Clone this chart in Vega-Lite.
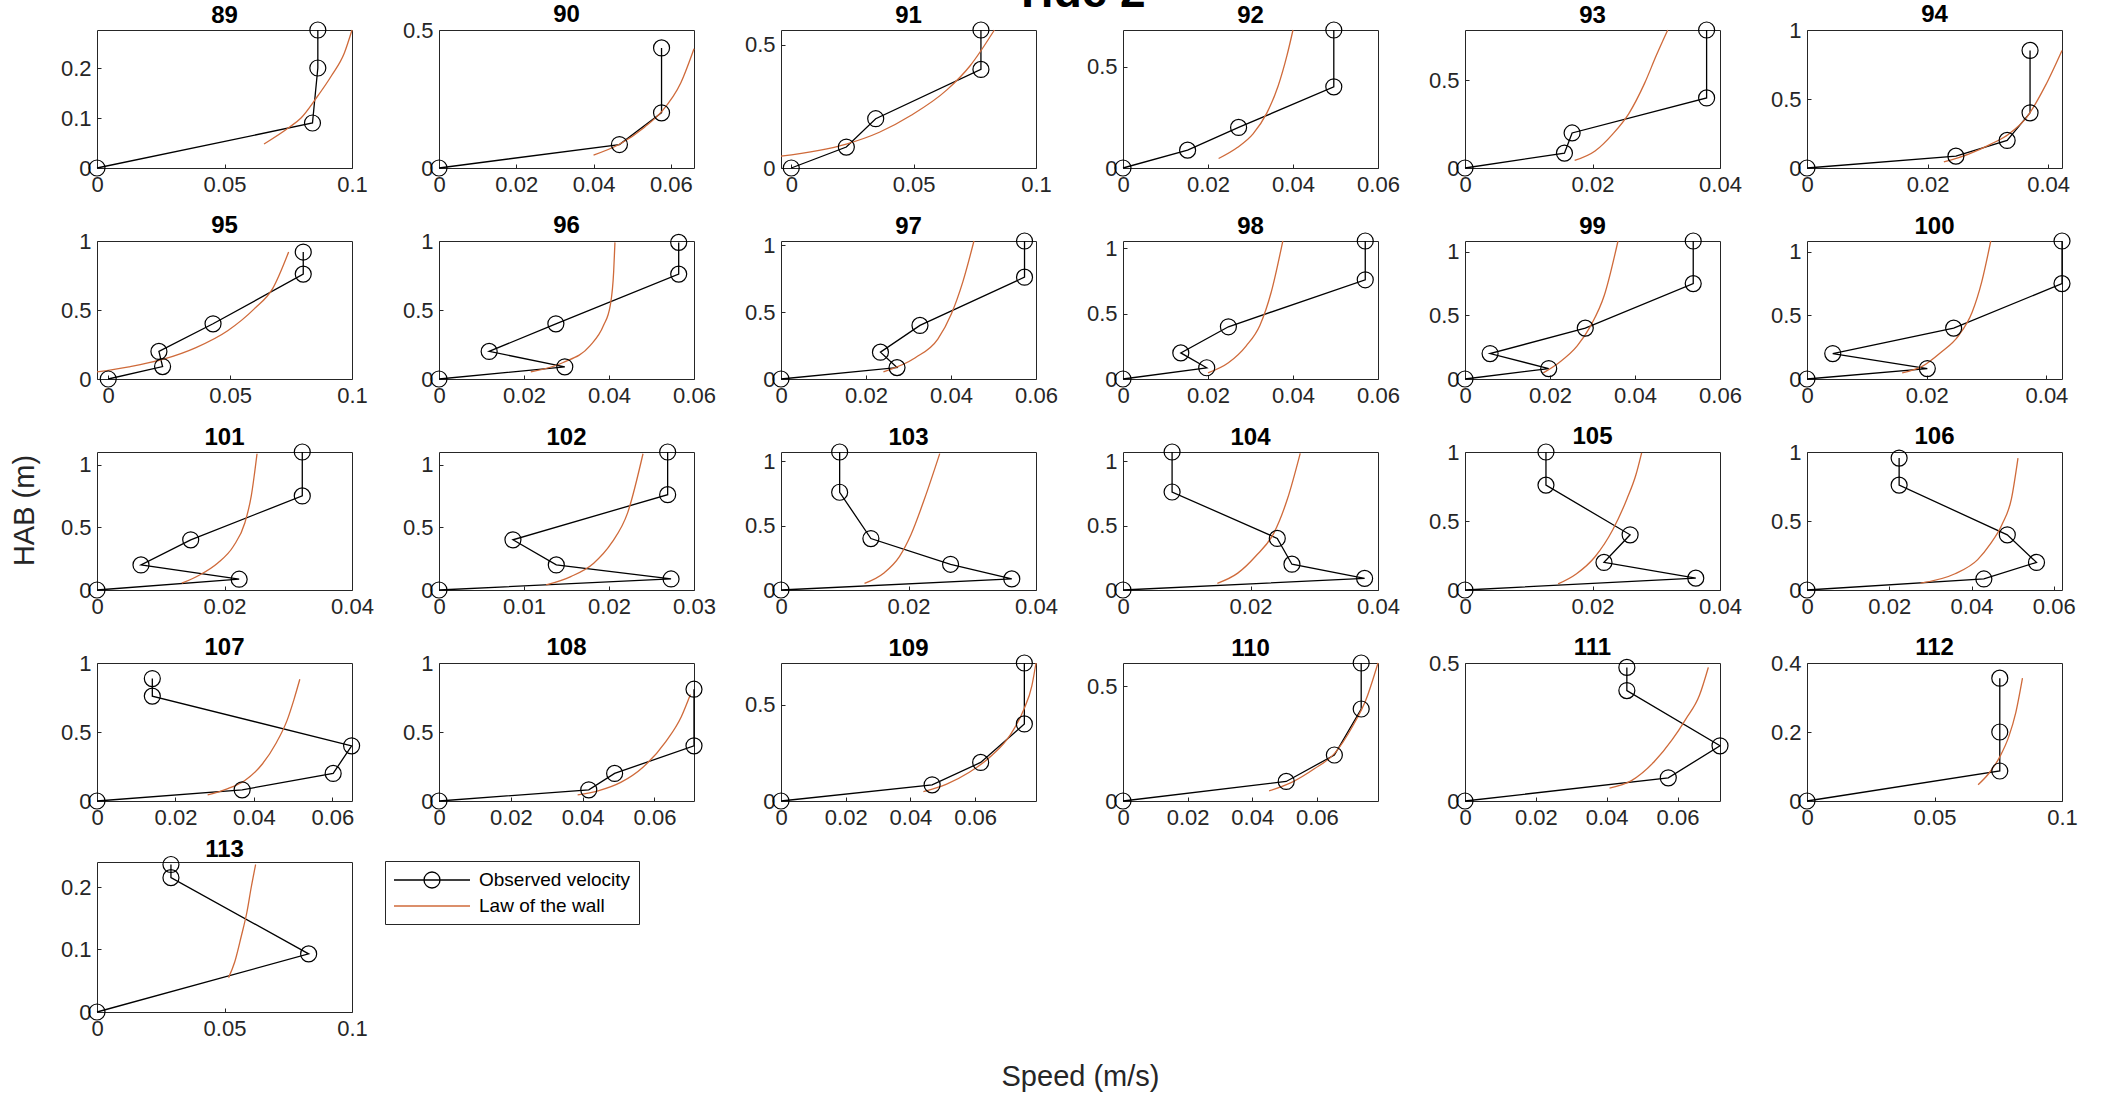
{
"$schema": "https://vega.github.io/schema/vega-lite/v6.json",
"autosize": {"type": "none"},
"padding": {"left": 97, "top": 30, "right": 2006, "bottom": 1064},
"background": "white",
"title": {"text": "Tide 2", "fontSize": 46, "anchor": "middle", "frame": "bounds", "offset": -14, "dx": 36},
"datasets": {
"obs": [
{"p":89,"u":0,"z":0},{"p":89,"u":0.0845,"z":0.09},{"p":89,"u":0.0866,"z":0.2},{"p":89,"u":0.0866,"z":0.276},
{"p":90,"u":0,"z":0},{"p":90,"u":0.0467,"z":0.085},{"p":90,"u":0.0576,"z":0.2},{"p":90,"u":0.0576,"z":0.435},
{"p":91,"u":0,"z":0},{"p":91,"u":0.0225,"z":0.085},{"p":91,"u":0.0345,"z":0.2},{"p":91,"u":0.0775,"z":0.4},{"p":91,"u":0.0775,"z":0.56},
{"p":92,"u":0,"z":0},{"p":92,"u":0.0152,"z":0.088},{"p":92,"u":0.0272,"z":0.2},{"p":92,"u":0.0496,"z":0.4},{"p":92,"u":0.0496,"z":0.68},
{"p":93,"u":0,"z":0},{"p":93,"u":0.0156,"z":0.085},{"p":93,"u":0.0168,"z":0.2},{"p":93,"u":0.0379,"z":0.4},{"p":93,"u":0.0379,"z":0.788},
{"p":94,"u":0,"z":0},{"p":94,"u":0.0247,"z":0.086},{"p":94,"u":0.0332,"z":0.2},{"p":94,"u":0.037,"z":0.4},{"p":94,"u":0.037,"z":0.852},
{"p":95,"u":0,"z":0},{"p":95,"u":0.0223,"z":0.09},{"p":95,"u":0.0208,"z":0.2},{"p":95,"u":0.043,"z":0.4},{"p":95,"u":0.08,"z":0.76},{"p":95,"u":0.08,"z":0.92},
{"p":96,"u":0,"z":0},{"p":96,"u":0.0296,"z":0.088},{"p":96,"u":0.0118,"z":0.2},{"p":96,"u":0.0275,"z":0.4},{"p":96,"u":0.0564,"z":0.76},{"p":96,"u":0.0564,"z":0.99},
{"p":97,"u":0,"z":0},{"p":97,"u":0.0273,"z":0.085},{"p":97,"u":0.0234,"z":0.2},{"p":97,"u":0.0327,"z":0.4},{"p":97,"u":0.0573,"z":0.76},{"p":97,"u":0.0573,"z":1.03},
{"p":98,"u":0,"z":0},{"p":98,"u":0.0197,"z":0.086},{"p":98,"u":0.0136,"z":0.2},{"p":98,"u":0.0248,"z":0.4},{"p":98,"u":0.057,"z":0.76},{"p":98,"u":0.057,"z":1.057},
{"p":99,"u":0,"z":0},{"p":99,"u":0.0197,"z":0.082},{"p":99,"u":0.0059,"z":0.2},{"p":99,"u":0.0283,"z":0.4},{"p":99,"u":0.0537,"z":0.75},{"p":99,"u":0.0537,"z":1.085},
{"p":100,"u":0,"z":0},{"p":100,"u":0.0201,"z":0.082},{"p":100,"u":0.0043,"z":0.2},{"p":100,"u":0.0245,"z":0.4},{"p":100,"u":0.0426,"z":0.75},{"p":100,"u":0.0426,"z":1.085},
{"p":101,"u":0,"z":0},{"p":101,"u":0.0223,"z":0.086},{"p":101,"u":0.0069,"z":0.2},{"p":101,"u":0.0147,"z":0.4},{"p":101,"u":0.0322,"z":0.75},{"p":101,"u":0.0322,"z":1.1},
{"p":102,"u":0,"z":0},{"p":102,"u":0.0273,"z":0.088},{"p":102,"u":0.0138,"z":0.2},{"p":102,"u":0.0087,"z":0.4},{"p":102,"u":0.0269,"z":0.76},{"p":102,"u":0.0269,"z":1.1},
{"p":103,"u":0,"z":0},{"p":103,"u":0.0362,"z":0.086},{"p":103,"u":0.0266,"z":0.2},{"p":103,"u":0.0141,"z":0.4},{"p":103,"u":0.0092,"z":0.76},{"p":103,"u":0.0092,"z":1.073},
{"p":104,"u":0,"z":0},{"p":104,"u":0.0379,"z":0.09},{"p":104,"u":0.0265,"z":0.2},{"p":104,"u":0.0242,"z":0.4},{"p":104,"u":0.0077,"z":0.76},{"p":104,"u":0.0077,"z":1.07},
{"p":105,"u":0,"z":0},{"p":105,"u":0.0362,"z":0.086},{"p":105,"u":0.0218,"z":0.2},{"p":105,"u":0.0259,"z":0.4},{"p":105,"u":0.0127,"z":0.76},{"p":105,"u":0.0127,"z":1.0},
{"p":106,"u":0,"z":0},{"p":106,"u":0.043,"z":0.08},{"p":106,"u":0.0558,"z":0.2},{"p":106,"u":0.0487,"z":0.4},{"p":106,"u":0.0224,"z":0.76},{"p":106,"u":0.0224,"z":0.956},
{"p":107,"u":0,"z":0},{"p":107,"u":0.037,"z":0.081},{"p":107,"u":0.0602,"z":0.2},{"p":107,"u":0.0649,"z":0.4},{"p":107,"u":0.0141,"z":0.76},{"p":107,"u":0.0141,"z":0.887},
{"p":108,"u":0,"z":0},{"p":108,"u":0.0417,"z":0.081},{"p":108,"u":0.0489,"z":0.2},{"p":108,"u":0.071,"z":0.4},{"p":108,"u":0.071,"z":0.81},
{"p":109,"u":0,"z":0},{"p":109,"u":0.0467,"z":0.084},{"p":109,"u":0.0617,"z":0.2},{"p":109,"u":0.0752,"z":0.4},{"p":109,"u":0.0752,"z":0.716},
{"p":110,"u":0,"z":0},{"p":110,"u":0.0505,"z":0.085},{"p":110,"u":0.0654,"z":0.2},{"p":110,"u":0.0737,"z":0.4},{"p":110,"u":0.0737,"z":0.6},
{"p":111,"u":0,"z":0},{"p":111,"u":0.0574,"z":0.084},{"p":111,"u":0.072,"z":0.2},{"p":111,"u":0.0457,"z":0.4},{"p":111,"u":0.0457,"z":0.484},
{"p":112,"u":0,"z":0},{"p":112,"u":0.0756,"z":0.087},{"p":112,"u":0.0756,"z":0.2},{"p":112,"u":0.0756,"z":0.356},
{"p":113,"u":0,"z":0},{"p":113,"u":0.083,"z":0.093},{"p":113,"u":0.029,"z":0.215},{"p":113,"u":0.029,"z":0.236}
],
"law": [
{"p":89,"u":0.0655,"z":0.048},{"p":89,"u":0.075,"z":0.08},{"p":89,"u":0.08,"z":0.1},{"p":89,"u":0.086,"z":0.14},{"p":89,"u":0.092,"z":0.185},{"p":89,"u":0.097,"z":0.23},{"p":89,"u":0.1,"z":0.276},
{"p":90,"u":0.04,"z":0.047},{"p":90,"u":0.0467,"z":0.086},{"p":90,"u":0.0532,"z":0.148},{"p":90,"u":0.0576,"z":0.204},{"p":90,"u":0.0626,"z":0.309},{"p":90,"u":0.066,"z":0.432},
{"p":91,"u":-0.0042,"z":0.048},{"p":91,"u":0.0225,"z":0.097},{"p":91,"u":0.036,"z":0.145},{"p":91,"u":0.049,"z":0.214},{"p":91,"u":0.0637,"z":0.318},{"p":91,"u":0.073,"z":0.414},{"p":91,"u":0.083,"z":0.56},
{"p":92,"u":0.0225,"z":0.047},{"p":92,"u":0.0269,"z":0.101},{"p":92,"u":0.0306,"z":0.168},{"p":92,"u":0.0338,"z":0.269},{"p":92,"u":0.0365,"z":0.404},{"p":92,"u":0.0386,"z":0.556},{"p":92,"u":0.04,"z":0.68},
{"p":93,"u":0.0172,"z":0.043},{"p":93,"u":0.0204,"z":0.097},{"p":93,"u":0.0232,"z":0.195},{"p":93,"u":0.0257,"z":0.311},{"p":93,"u":0.0282,"z":0.486},{"p":93,"u":0.03,"z":0.642},{"p":93,"u":0.0318,"z":0.788},
{"p":94,"u":0.0227,"z":0.044},{"p":94,"u":0.0267,"z":0.099},{"p":94,"u":0.0305,"z":0.173},{"p":94,"u":0.0335,"z":0.247},{"p":94,"u":0.0365,"z":0.37},{"p":94,"u":0.0395,"z":0.593},{"p":94,"u":0.0423,"z":0.852},
{"p":95,"u":-0.0046,"z":0.051},{"p":95,"u":0.0085,"z":0.088},{"p":95,"u":0.0223,"z":0.142},{"p":95,"u":0.036,"z":0.228},{"p":95,"u":0.049,"z":0.35},{"p":95,"u":0.06,"z":0.51},{"p":95,"u":0.0675,"z":0.657},{"p":95,"u":0.074,"z":0.92},
{"p":96,"u":0.0216,"z":0.051},{"p":96,"u":0.0291,"z":0.118},{"p":96,"u":0.0355,"z":0.24},{"p":96,"u":0.0387,"z":0.387},{"p":96,"u":0.0403,"z":0.534},{"p":96,"u":0.0411,"z":0.779},{"p":96,"u":0.0414,"z":0.99},
{"p":97,"u":0.0241,"z":0.053},{"p":97,"u":0.0316,"z":0.159},{"p":97,"u":0.0369,"z":0.298},{"p":97,"u":0.0401,"z":0.487},{"p":97,"u":0.0428,"z":0.727},{"p":97,"u":0.0454,"z":1.03},
{"p":98,"u":0.02,"z":0.047},{"p":98,"u":0.0248,"z":0.124},{"p":98,"u":0.029,"z":0.254},{"p":98,"u":0.0322,"z":0.41},{"p":98,"u":0.0349,"z":0.668},{"p":98,"u":0.0376,"z":1.057},
{"p":99,"u":0.0184,"z":0.048},{"p":99,"u":0.0221,"z":0.128},{"p":99,"u":0.0264,"z":0.26},{"p":99,"u":0.0296,"z":0.42},{"p":99,"u":0.0328,"z":0.66},{"p":99,"u":0.036,"z":1.085},
{"p":100,"u":0.0159,"z":0.048},{"p":100,"u":0.0193,"z":0.101},{"p":100,"u":0.0223,"z":0.207},{"p":100,"u":0.0253,"z":0.34},{"p":100,"u":0.0276,"z":0.527},{"p":100,"u":0.0292,"z":0.766},{"p":100,"u":0.0307,"z":1.085},
{"p":101,"u":0.0133,"z":0.054},{"p":101,"u":0.0161,"z":0.12},{"p":101,"u":0.0189,"z":0.214},{"p":101,"u":0.0214,"z":0.349},{"p":101,"u":0.0232,"z":0.536},{"p":101,"u":0.0242,"z":0.75},{"p":101,"u":0.0251,"z":1.086},
{"p":102,"u":0.0126,"z":0.04},{"p":102,"u":0.0155,"z":0.107},{"p":102,"u":0.0182,"z":0.214},{"p":102,"u":0.0203,"z":0.375},{"p":102,"u":0.0222,"z":0.617},{"p":102,"u":0.024,"z":1.086},
{"p":103,"u":0.0131,"z":0.052},{"p":103,"u":0.0161,"z":0.131},{"p":103,"u":0.0186,"z":0.262},{"p":103,"u":0.0204,"z":0.432},{"p":103,"u":0.0225,"z":0.707},{"p":103,"u":0.0249,"z":1.06},
{"p":104,"u":0.0148,"z":0.052},{"p":104,"u":0.018,"z":0.131},{"p":104,"u":0.0208,"z":0.262},{"p":104,"u":0.0237,"z":0.445},{"p":104,"u":0.0258,"z":0.707},{"p":104,"u":0.0278,"z":1.06},
{"p":105,"u":0.0146,"z":0.044},{"p":105,"u":0.0175,"z":0.118},{"p":105,"u":0.0204,"z":0.241},{"p":105,"u":0.0232,"z":0.438},{"p":105,"u":0.0254,"z":0.66},{"p":105,"u":0.0268,"z":0.833},{"p":105,"u":0.0277,"z":0.993},
{"p":106,"u":0.0276,"z":0.05},{"p":106,"u":0.036,"z":0.118},{"p":106,"u":0.0415,"z":0.22},{"p":106,"u":0.0445,"z":0.33},{"p":106,"u":0.0475,"z":0.48},{"p":106,"u":0.0497,"z":0.66},{"p":106,"u":0.0513,"z":0.956},
{"p":107,"u":0.0282,"z":0.044},{"p":107,"u":0.033,"z":0.086},{"p":107,"u":0.0376,"z":0.147},{"p":107,"u":0.0422,"z":0.27},{"p":107,"u":0.0456,"z":0.417},{"p":107,"u":0.0485,"z":0.588},{"p":107,"u":0.0502,"z":0.735},{"p":107,"u":0.0517,"z":0.882},
{"p":108,"u":0.0386,"z":0.044},{"p":108,"u":0.0443,"z":0.074},{"p":108,"u":0.0506,"z":0.135},{"p":108,"u":0.0568,"z":0.245},{"p":108,"u":0.0631,"z":0.429},{"p":108,"u":0.0675,"z":0.613},{"p":108,"u":0.07,"z":0.772},
{"p":109,"u":0.044,"z":0.049},{"p":109,"u":0.0512,"z":0.088},{"p":109,"u":0.0582,"z":0.149},{"p":109,"u":0.0652,"z":0.237},{"p":109,"u":0.0708,"z":0.342},{"p":109,"u":0.075,"z":0.474},{"p":109,"u":0.0775,"z":0.596},{"p":109,"u":0.0788,"z":0.716},
{"p":110,"u":0.0452,"z":0.044},{"p":110,"u":0.0522,"z":0.081},{"p":110,"u":0.0592,"z":0.14},{"p":110,"u":0.0654,"z":0.206},{"p":110,"u":0.071,"z":0.324},{"p":110,"u":0.0752,"z":0.441},{"p":110,"u":0.0789,"z":0.6},
{"p":111,"u":0.0408,"z":0.047},{"p":111,"u":0.047,"z":0.074},{"p":111,"u":0.0534,"z":0.142},{"p":111,"u":0.0585,"z":0.222},{"p":111,"u":0.0623,"z":0.296},{"p":111,"u":0.0662,"z":0.383},{"p":111,"u":0.0687,"z":0.484},
{"p":112,"u":0.0671,"z":0.047},{"p":112,"u":0.0712,"z":0.079},{"p":112,"u":0.0756,"z":0.128},{"p":112,"u":0.0792,"z":0.188},{"p":112,"u":0.0819,"z":0.257},{"p":112,"u":0.0845,"z":0.356},
{"p":113,"u":0.0516,"z":0.055},{"p":113,"u":0.054,"z":0.08},{"p":113,"u":0.0565,"z":0.12},{"p":113,"u":0.0588,"z":0.16},{"p":113,"u":0.0605,"z":0.2},{"p":113,"u":0.0622,"z":0.236}
]
},
"spacing": 832,
"bounds": "flush",
"vconcat": [
{"columns": 6,
"spacing": {"row": 73, "column": 87},
"bounds": "flush",
"concat": [
{"title":"89","width":255,"height":138,"encoding":{"x":{"field":"u","type":"quantitative","title":null,"scale":{"domain":[0,0.1],"nice":false},"axis":{"values":[0,0.05,0.1]}},"y":{"field":"z","type":"quantitative","title":null,"scale":{"domain":[0,0.276],"nice":false},"axis":{"values":[0,0.1,0.2]}}},
"layer":[{"data":{"name":"obs"},"transform":[{"filter":"datum.p==89"}],"mark":{"type":"line","color":"#000000","strokeWidth":1.3},"encoding":{"order":{"field":"z","type":"quantitative"}}},{"data":{"name":"law"},"transform":[{"filter":"datum.p==89"}],"mark":{"type":"line","color":"#CF6A3A","strokeWidth":1.3,"interpolate":"monotone"},"encoding":{"order":{"field":"z","type":"quantitative"}}},{"data":{"name":"obs"},"transform":[{"filter":"datum.p==89"}],"mark":{"type":"point","shape":"circle","size":256,"filled":false,"color":"#000000","strokeWidth":1.2,"opacity":1},"encoding":{}}]},
{"title":"90","width":255,"height":138,"encoding":{"x":{"field":"u","type":"quantitative","title":null,"scale":{"domain":[0,0.066],"nice":false},"axis":{"values":[0,0.02,0.04,0.06]}},"y":{"field":"z","type":"quantitative","title":null,"scale":{"domain":[0,0.5],"nice":false},"axis":{"values":[0,0.5]}}},
"layer":[{"data":{"name":"obs"},"transform":[{"filter":"datum.p==90"}],"mark":{"type":"line","color":"#000000","strokeWidth":1.3},"encoding":{"order":{"field":"z","type":"quantitative"}}},{"data":{"name":"law"},"transform":[{"filter":"datum.p==90"}],"mark":{"type":"line","color":"#CF6A3A","strokeWidth":1.3,"interpolate":"monotone"},"encoding":{"order":{"field":"z","type":"quantitative"}}},{"data":{"name":"obs"},"transform":[{"filter":"datum.p==90"}],"mark":{"type":"point","shape":"circle","size":256,"filled":false,"color":"#000000","strokeWidth":1.2,"opacity":1},"encoding":{}}]},
{"title":"91","width":255,"height":138,"encoding":{"x":{"field":"u","type":"quantitative","title":null,"scale":{"domain":[-0.0042,0.1],"nice":false},"axis":{"values":[0,0.05,0.1]}},"y":{"field":"z","type":"quantitative","title":null,"scale":{"domain":[0,0.56],"nice":false},"axis":{"values":[0,0.5]}}},
"layer":[{"data":{"name":"obs"},"transform":[{"filter":"datum.p==91"}],"mark":{"type":"line","color":"#000000","strokeWidth":1.3},"encoding":{"order":{"field":"z","type":"quantitative"}}},{"data":{"name":"law"},"transform":[{"filter":"datum.p==91"}],"mark":{"type":"line","color":"#CF6A3A","strokeWidth":1.3,"interpolate":"monotone"},"encoding":{"order":{"field":"z","type":"quantitative"}}},{"data":{"name":"obs"},"transform":[{"filter":"datum.p==91"}],"mark":{"type":"point","shape":"circle","size":256,"filled":false,"color":"#000000","strokeWidth":1.2,"opacity":1},"encoding":{}}]},
{"title":"92","width":255,"height":138,"encoding":{"x":{"field":"u","type":"quantitative","title":null,"scale":{"domain":[0,0.06],"nice":false},"axis":{"values":[0,0.02,0.04,0.06]}},"y":{"field":"z","type":"quantitative","title":null,"scale":{"domain":[0,0.68],"nice":false},"axis":{"values":[0,0.5]}}},
"layer":[{"data":{"name":"obs"},"transform":[{"filter":"datum.p==92"}],"mark":{"type":"line","color":"#000000","strokeWidth":1.3},"encoding":{"order":{"field":"z","type":"quantitative"}}},{"data":{"name":"law"},"transform":[{"filter":"datum.p==92"}],"mark":{"type":"line","color":"#CF6A3A","strokeWidth":1.3,"interpolate":"monotone"},"encoding":{"order":{"field":"z","type":"quantitative"}}},{"data":{"name":"obs"},"transform":[{"filter":"datum.p==92"}],"mark":{"type":"point","shape":"circle","size":256,"filled":false,"color":"#000000","strokeWidth":1.2,"opacity":1},"encoding":{}}]},
{"title":"93","width":255,"height":138,"encoding":{"x":{"field":"u","type":"quantitative","title":null,"scale":{"domain":[0,0.04],"nice":false},"axis":{"values":[0,0.02,0.04]}},"y":{"field":"z","type":"quantitative","title":null,"scale":{"domain":[0,0.788],"nice":false},"axis":{"values":[0,0.5]}}},
"layer":[{"data":{"name":"obs"},"transform":[{"filter":"datum.p==93"}],"mark":{"type":"line","color":"#000000","strokeWidth":1.3},"encoding":{"order":{"field":"z","type":"quantitative"}}},{"data":{"name":"law"},"transform":[{"filter":"datum.p==93"}],"mark":{"type":"line","color":"#CF6A3A","strokeWidth":1.3,"interpolate":"monotone"},"encoding":{"order":{"field":"z","type":"quantitative"}}},{"data":{"name":"obs"},"transform":[{"filter":"datum.p==93"}],"mark":{"type":"point","shape":"circle","size":256,"filled":false,"color":"#000000","strokeWidth":1.2,"opacity":1},"encoding":{}}]},
{"title":"94","width":255,"height":138,"encoding":{"x":{"field":"u","type":"quantitative","title":null,"scale":{"domain":[0,0.0423],"nice":false},"axis":{"values":[0,0.02,0.04]}},"y":{"field":"z","type":"quantitative","title":null,"scale":{"domain":[0,1],"nice":false},"axis":{"values":[0,0.5,1]}}},
"layer":[{"data":{"name":"obs"},"transform":[{"filter":"datum.p==94"}],"mark":{"type":"line","color":"#000000","strokeWidth":1.3},"encoding":{"order":{"field":"z","type":"quantitative"}}},{"data":{"name":"law"},"transform":[{"filter":"datum.p==94"}],"mark":{"type":"line","color":"#CF6A3A","strokeWidth":1.3,"interpolate":"monotone"},"encoding":{"order":{"field":"z","type":"quantitative"}}},{"data":{"name":"obs"},"transform":[{"filter":"datum.p==94"}],"mark":{"type":"point","shape":"circle","size":256,"filled":false,"color":"#000000","strokeWidth":1.2,"opacity":1},"encoding":{}}]},
{"title":"95","width":255,"height":138,"encoding":{"x":{"field":"u","type":"quantitative","title":null,"scale":{"domain":[-0.0046,0.1],"nice":false},"axis":{"values":[0,0.05,0.1]}},"y":{"field":"z","type":"quantitative","title":null,"scale":{"domain":[0,1],"nice":false},"axis":{"values":[0,0.5,1]}}},
"layer":[{"data":{"name":"obs"},"transform":[{"filter":"datum.p==95"}],"mark":{"type":"line","color":"#000000","strokeWidth":1.3},"encoding":{"order":{"field":"z","type":"quantitative"}}},{"data":{"name":"law"},"transform":[{"filter":"datum.p==95"}],"mark":{"type":"line","color":"#CF6A3A","strokeWidth":1.3,"interpolate":"monotone"},"encoding":{"order":{"field":"z","type":"quantitative"}}},{"data":{"name":"obs"},"transform":[{"filter":"datum.p==95"}],"mark":{"type":"point","shape":"circle","size":256,"filled":false,"color":"#000000","strokeWidth":1.2,"opacity":1},"encoding":{}}]},
{"title":"96","width":255,"height":138,"encoding":{"x":{"field":"u","type":"quantitative","title":null,"scale":{"domain":[0,0.06],"nice":false},"axis":{"values":[0,0.02,0.04,0.06]}},"y":{"field":"z","type":"quantitative","title":null,"scale":{"domain":[0,1],"nice":false},"axis":{"values":[0,0.5,1]}}},
"layer":[{"data":{"name":"obs"},"transform":[{"filter":"datum.p==96"}],"mark":{"type":"line","color":"#000000","strokeWidth":1.3},"encoding":{"order":{"field":"z","type":"quantitative"}}},{"data":{"name":"law"},"transform":[{"filter":"datum.p==96"}],"mark":{"type":"line","color":"#CF6A3A","strokeWidth":1.3,"interpolate":"monotone"},"encoding":{"order":{"field":"z","type":"quantitative"}}},{"data":{"name":"obs"},"transform":[{"filter":"datum.p==96"}],"mark":{"type":"point","shape":"circle","size":256,"filled":false,"color":"#000000","strokeWidth":1.2,"opacity":1},"encoding":{}}]},
{"title":"97","width":255,"height":138,"encoding":{"x":{"field":"u","type":"quantitative","title":null,"scale":{"domain":[0,0.06],"nice":false},"axis":{"values":[0,0.02,0.04,0.06]}},"y":{"field":"z","type":"quantitative","title":null,"scale":{"domain":[0,1.03],"nice":false},"axis":{"values":[0,0.5,1]}}},
"layer":[{"data":{"name":"obs"},"transform":[{"filter":"datum.p==97"}],"mark":{"type":"line","color":"#000000","strokeWidth":1.3},"encoding":{"order":{"field":"z","type":"quantitative"}}},{"data":{"name":"law"},"transform":[{"filter":"datum.p==97"}],"mark":{"type":"line","color":"#CF6A3A","strokeWidth":1.3,"interpolate":"monotone"},"encoding":{"order":{"field":"z","type":"quantitative"}}},{"data":{"name":"obs"},"transform":[{"filter":"datum.p==97"}],"mark":{"type":"point","shape":"circle","size":256,"filled":false,"color":"#000000","strokeWidth":1.2,"opacity":1},"encoding":{}}]},
{"title":"98","width":255,"height":138,"encoding":{"x":{"field":"u","type":"quantitative","title":null,"scale":{"domain":[0,0.06],"nice":false},"axis":{"values":[0,0.02,0.04,0.06]}},"y":{"field":"z","type":"quantitative","title":null,"scale":{"domain":[0,1.057],"nice":false},"axis":{"values":[0,0.5,1]}}},
"layer":[{"data":{"name":"obs"},"transform":[{"filter":"datum.p==98"}],"mark":{"type":"line","color":"#000000","strokeWidth":1.3},"encoding":{"order":{"field":"z","type":"quantitative"}}},{"data":{"name":"law"},"transform":[{"filter":"datum.p==98"}],"mark":{"type":"line","color":"#CF6A3A","strokeWidth":1.3,"interpolate":"monotone"},"encoding":{"order":{"field":"z","type":"quantitative"}}},{"data":{"name":"obs"},"transform":[{"filter":"datum.p==98"}],"mark":{"type":"point","shape":"circle","size":256,"filled":false,"color":"#000000","strokeWidth":1.2,"opacity":1},"encoding":{}}]},
{"title":"99","width":255,"height":138,"encoding":{"x":{"field":"u","type":"quantitative","title":null,"scale":{"domain":[0,0.06],"nice":false},"axis":{"values":[0,0.02,0.04,0.06]}},"y":{"field":"z","type":"quantitative","title":null,"scale":{"domain":[0,1.085],"nice":false},"axis":{"values":[0,0.5,1]}}},
"layer":[{"data":{"name":"obs"},"transform":[{"filter":"datum.p==99"}],"mark":{"type":"line","color":"#000000","strokeWidth":1.3},"encoding":{"order":{"field":"z","type":"quantitative"}}},{"data":{"name":"law"},"transform":[{"filter":"datum.p==99"}],"mark":{"type":"line","color":"#CF6A3A","strokeWidth":1.3,"interpolate":"monotone"},"encoding":{"order":{"field":"z","type":"quantitative"}}},{"data":{"name":"obs"},"transform":[{"filter":"datum.p==99"}],"mark":{"type":"point","shape":"circle","size":256,"filled":false,"color":"#000000","strokeWidth":1.2,"opacity":1},"encoding":{}}]},
{"title":"100","width":255,"height":138,"encoding":{"x":{"field":"u","type":"quantitative","title":null,"scale":{"domain":[0,0.0426],"nice":false},"axis":{"values":[0,0.02,0.04]}},"y":{"field":"z","type":"quantitative","title":null,"scale":{"domain":[0,1.085],"nice":false},"axis":{"values":[0,0.5,1]}}},
"layer":[{"data":{"name":"obs"},"transform":[{"filter":"datum.p==100"}],"mark":{"type":"line","color":"#000000","strokeWidth":1.3},"encoding":{"order":{"field":"z","type":"quantitative"}}},{"data":{"name":"law"},"transform":[{"filter":"datum.p==100"}],"mark":{"type":"line","color":"#CF6A3A","strokeWidth":1.3,"interpolate":"monotone"},"encoding":{"order":{"field":"z","type":"quantitative"}}},{"data":{"name":"obs"},"transform":[{"filter":"datum.p==100"}],"mark":{"type":"point","shape":"circle","size":256,"filled":false,"color":"#000000","strokeWidth":1.2,"opacity":1},"encoding":{}}]},
{"title":"101","width":255,"height":138,"encoding":{"x":{"field":"u","type":"quantitative","title":null,"scale":{"domain":[0,0.04],"nice":false},"axis":{"values":[0,0.02,0.04]}},"y":{"field":"z","type":"quantitative","title":"HAB (m)","scale":{"domain":[0,1.1],"nice":false},"axis":{"values":[0,0.5,1],"titleX":-73,"titleY":58,"titleAlign":"center","titleBaseline":"middle"}}},
"layer":[{"data":{"name":"obs"},"transform":[{"filter":"datum.p==101"}],"mark":{"type":"line","color":"#000000","strokeWidth":1.3},"encoding":{"order":{"field":"z","type":"quantitative"}}},{"data":{"name":"law"},"transform":[{"filter":"datum.p==101"}],"mark":{"type":"line","color":"#CF6A3A","strokeWidth":1.3,"interpolate":"monotone"},"encoding":{"order":{"field":"z","type":"quantitative"}}},{"data":{"name":"obs"},"transform":[{"filter":"datum.p==101"}],"mark":{"type":"point","shape":"circle","size":256,"filled":false,"color":"#000000","strokeWidth":1.2,"opacity":1},"encoding":{}}]},
{"title":"102","width":255,"height":138,"encoding":{"x":{"field":"u","type":"quantitative","title":null,"scale":{"domain":[0,0.03],"nice":false},"axis":{"values":[0,0.01,0.02,0.03]}},"y":{"field":"z","type":"quantitative","title":null,"scale":{"domain":[0,1.1],"nice":false},"axis":{"values":[0,0.5,1]}}},
"layer":[{"data":{"name":"obs"},"transform":[{"filter":"datum.p==102"}],"mark":{"type":"line","color":"#000000","strokeWidth":1.3},"encoding":{"order":{"field":"z","type":"quantitative"}}},{"data":{"name":"law"},"transform":[{"filter":"datum.p==102"}],"mark":{"type":"line","color":"#CF6A3A","strokeWidth":1.3,"interpolate":"monotone"},"encoding":{"order":{"field":"z","type":"quantitative"}}},{"data":{"name":"obs"},"transform":[{"filter":"datum.p==102"}],"mark":{"type":"point","shape":"circle","size":256,"filled":false,"color":"#000000","strokeWidth":1.2,"opacity":1},"encoding":{}}]},
{"title":"103","width":255,"height":138,"encoding":{"x":{"field":"u","type":"quantitative","title":null,"scale":{"domain":[0,0.04],"nice":false},"axis":{"values":[0,0.02,0.04]}},"y":{"field":"z","type":"quantitative","title":null,"scale":{"domain":[0,1.073],"nice":false},"axis":{"values":[0,0.5,1]}}},
"layer":[{"data":{"name":"obs"},"transform":[{"filter":"datum.p==103"}],"mark":{"type":"line","color":"#000000","strokeWidth":1.3},"encoding":{"order":{"field":"z","type":"quantitative"}}},{"data":{"name":"law"},"transform":[{"filter":"datum.p==103"}],"mark":{"type":"line","color":"#CF6A3A","strokeWidth":1.3,"interpolate":"monotone"},"encoding":{"order":{"field":"z","type":"quantitative"}}},{"data":{"name":"obs"},"transform":[{"filter":"datum.p==103"}],"mark":{"type":"point","shape":"circle","size":256,"filled":false,"color":"#000000","strokeWidth":1.2,"opacity":1},"encoding":{}}]},
{"title":"104","width":255,"height":138,"encoding":{"x":{"field":"u","type":"quantitative","title":null,"scale":{"domain":[0,0.04],"nice":false},"axis":{"values":[0,0.02,0.04]}},"y":{"field":"z","type":"quantitative","title":null,"scale":{"domain":[0,1.07],"nice":false},"axis":{"values":[0,0.5,1]}}},
"layer":[{"data":{"name":"obs"},"transform":[{"filter":"datum.p==104"}],"mark":{"type":"line","color":"#000000","strokeWidth":1.3},"encoding":{"order":{"field":"z","type":"quantitative"}}},{"data":{"name":"law"},"transform":[{"filter":"datum.p==104"}],"mark":{"type":"line","color":"#CF6A3A","strokeWidth":1.3,"interpolate":"monotone"},"encoding":{"order":{"field":"z","type":"quantitative"}}},{"data":{"name":"obs"},"transform":[{"filter":"datum.p==104"}],"mark":{"type":"point","shape":"circle","size":256,"filled":false,"color":"#000000","strokeWidth":1.2,"opacity":1},"encoding":{}}]},
{"title":"105","width":255,"height":138,"encoding":{"x":{"field":"u","type":"quantitative","title":null,"scale":{"domain":[0,0.04],"nice":false},"axis":{"values":[0,0.02,0.04]}},"y":{"field":"z","type":"quantitative","title":null,"scale":{"domain":[0,1],"nice":false},"axis":{"values":[0,0.5,1]}}},
"layer":[{"data":{"name":"obs"},"transform":[{"filter":"datum.p==105"}],"mark":{"type":"line","color":"#000000","strokeWidth":1.3},"encoding":{"order":{"field":"z","type":"quantitative"}}},{"data":{"name":"law"},"transform":[{"filter":"datum.p==105"}],"mark":{"type":"line","color":"#CF6A3A","strokeWidth":1.3,"interpolate":"monotone"},"encoding":{"order":{"field":"z","type":"quantitative"}}},{"data":{"name":"obs"},"transform":[{"filter":"datum.p==105"}],"mark":{"type":"point","shape":"circle","size":256,"filled":false,"color":"#000000","strokeWidth":1.2,"opacity":1},"encoding":{}}]},
{"title":"106","width":255,"height":138,"encoding":{"x":{"field":"u","type":"quantitative","title":null,"scale":{"domain":[0,0.062],"nice":false},"axis":{"values":[0,0.02,0.04,0.06]}},"y":{"field":"z","type":"quantitative","title":null,"scale":{"domain":[0,1],"nice":false},"axis":{"values":[0,0.5,1]}}},
"layer":[{"data":{"name":"obs"},"transform":[{"filter":"datum.p==106"}],"mark":{"type":"line","color":"#000000","strokeWidth":1.3},"encoding":{"order":{"field":"z","type":"quantitative"}}},{"data":{"name":"law"},"transform":[{"filter":"datum.p==106"}],"mark":{"type":"line","color":"#CF6A3A","strokeWidth":1.3,"interpolate":"monotone"},"encoding":{"order":{"field":"z","type":"quantitative"}}},{"data":{"name":"obs"},"transform":[{"filter":"datum.p==106"}],"mark":{"type":"point","shape":"circle","size":256,"filled":false,"color":"#000000","strokeWidth":1.2,"opacity":1},"encoding":{}}]},
{"title":"107","width":255,"height":138,"encoding":{"x":{"field":"u","type":"quantitative","title":null,"scale":{"domain":[0,0.065],"nice":false},"axis":{"values":[0,0.02,0.04,0.06]}},"y":{"field":"z","type":"quantitative","title":null,"scale":{"domain":[0,1],"nice":false},"axis":{"values":[0,0.5,1]}}},
"layer":[{"data":{"name":"obs"},"transform":[{"filter":"datum.p==107"}],"mark":{"type":"line","color":"#000000","strokeWidth":1.3},"encoding":{"order":{"field":"z","type":"quantitative"}}},{"data":{"name":"law"},"transform":[{"filter":"datum.p==107"}],"mark":{"type":"line","color":"#CF6A3A","strokeWidth":1.3,"interpolate":"monotone"},"encoding":{"order":{"field":"z","type":"quantitative"}}},{"data":{"name":"obs"},"transform":[{"filter":"datum.p==107"}],"mark":{"type":"point","shape":"circle","size":256,"filled":false,"color":"#000000","strokeWidth":1.2,"opacity":1},"encoding":{}}]},
{"title":"108","width":255,"height":138,"encoding":{"x":{"field":"u","type":"quantitative","title":null,"scale":{"domain":[0,0.071],"nice":false},"axis":{"values":[0,0.02,0.04,0.06]}},"y":{"field":"z","type":"quantitative","title":null,"scale":{"domain":[0,1],"nice":false},"axis":{"values":[0,0.5,1]}}},
"layer":[{"data":{"name":"obs"},"transform":[{"filter":"datum.p==108"}],"mark":{"type":"line","color":"#000000","strokeWidth":1.3},"encoding":{"order":{"field":"z","type":"quantitative"}}},{"data":{"name":"law"},"transform":[{"filter":"datum.p==108"}],"mark":{"type":"line","color":"#CF6A3A","strokeWidth":1.3,"interpolate":"monotone"},"encoding":{"order":{"field":"z","type":"quantitative"}}},{"data":{"name":"obs"},"transform":[{"filter":"datum.p==108"}],"mark":{"type":"point","shape":"circle","size":256,"filled":false,"color":"#000000","strokeWidth":1.2,"opacity":1},"encoding":{}}]},
{"title":"109","width":255,"height":138,"encoding":{"x":{"field":"u","type":"quantitative","title":null,"scale":{"domain":[0,0.0788],"nice":false},"axis":{"values":[0,0.02,0.04,0.06]}},"y":{"field":"z","type":"quantitative","title":null,"scale":{"domain":[0,0.716],"nice":false},"axis":{"values":[0,0.5]}}},
"layer":[{"data":{"name":"obs"},"transform":[{"filter":"datum.p==109"}],"mark":{"type":"line","color":"#000000","strokeWidth":1.3},"encoding":{"order":{"field":"z","type":"quantitative"}}},{"data":{"name":"law"},"transform":[{"filter":"datum.p==109"}],"mark":{"type":"line","color":"#CF6A3A","strokeWidth":1.3,"interpolate":"monotone"},"encoding":{"order":{"field":"z","type":"quantitative"}}},{"data":{"name":"obs"},"transform":[{"filter":"datum.p==109"}],"mark":{"type":"point","shape":"circle","size":256,"filled":false,"color":"#000000","strokeWidth":1.2,"opacity":1},"encoding":{}}]},
{"title":"110","width":255,"height":138,"encoding":{"x":{"field":"u","type":"quantitative","title":null,"scale":{"domain":[0,0.0789],"nice":false},"axis":{"values":[0,0.02,0.04,0.06]}},"y":{"field":"z","type":"quantitative","title":null,"scale":{"domain":[0,0.6],"nice":false},"axis":{"values":[0,0.5]}}},
"layer":[{"data":{"name":"obs"},"transform":[{"filter":"datum.p==110"}],"mark":{"type":"line","color":"#000000","strokeWidth":1.3},"encoding":{"order":{"field":"z","type":"quantitative"}}},{"data":{"name":"law"},"transform":[{"filter":"datum.p==110"}],"mark":{"type":"line","color":"#CF6A3A","strokeWidth":1.3,"interpolate":"monotone"},"encoding":{"order":{"field":"z","type":"quantitative"}}},{"data":{"name":"obs"},"transform":[{"filter":"datum.p==110"}],"mark":{"type":"point","shape":"circle","size":256,"filled":false,"color":"#000000","strokeWidth":1.2,"opacity":1},"encoding":{}}]},
{"title":"111","width":255,"height":138,"encoding":{"x":{"field":"u","type":"quantitative","title":null,"scale":{"domain":[0,0.072],"nice":false},"axis":{"values":[0,0.02,0.04,0.06]}},"y":{"field":"z","type":"quantitative","title":null,"scale":{"domain":[0,0.5],"nice":false},"axis":{"values":[0,0.5]}}},
"layer":[{"data":{"name":"obs"},"transform":[{"filter":"datum.p==111"}],"mark":{"type":"line","color":"#000000","strokeWidth":1.3},"encoding":{"order":{"field":"z","type":"quantitative"}}},{"data":{"name":"law"},"transform":[{"filter":"datum.p==111"}],"mark":{"type":"line","color":"#CF6A3A","strokeWidth":1.3,"interpolate":"monotone"},"encoding":{"order":{"field":"z","type":"quantitative"}}},{"data":{"name":"obs"},"transform":[{"filter":"datum.p==111"}],"mark":{"type":"point","shape":"circle","size":256,"filled":false,"color":"#000000","strokeWidth":1.2,"opacity":1},"encoding":{}}]},
{"title":"112","width":255,"height":138,"encoding":{"x":{"field":"u","type":"quantitative","title":null,"scale":{"domain":[0,0.1],"nice":false},"axis":{"values":[0,0.05,0.1]}},"y":{"field":"z","type":"quantitative","title":null,"scale":{"domain":[0,0.4],"nice":false},"axis":{"values":[0,0.2,0.4]}}},
"layer":[{"data":{"name":"obs"},"transform":[{"filter":"datum.p==112"}],"mark":{"type":"line","color":"#000000","strokeWidth":1.3},"encoding":{"order":{"field":"z","type":"quantitative"}}},{"data":{"name":"law"},"transform":[{"filter":"datum.p==112"}],"mark":{"type":"line","color":"#CF6A3A","strokeWidth":1.3,"interpolate":"monotone"},"encoding":{"order":{"field":"z","type":"quantitative"}}},{"data":{"name":"obs"},"transform":[{"filter":"datum.p==112"}],"mark":{"type":"point","shape":"circle","size":256,"filled":false,"color":"#000000","strokeWidth":1.2,"opacity":1},"encoding":{}}]}
]},
{"title":"113","width":255,"height":150,"encoding":{"x":{"field":"u","type":"quantitative","title":"Speed (m/s)","scale":{"domain":[0,0.1],"nice":false},"axis":{"values":[0,0.05,0.1],"titleX":983,"titleY":64,"titleAlign":"center","titleBaseline":"middle"}},"y":{"field":"z","type":"quantitative","title":null,"scale":{"domain":[0,0.24],"nice":false},"axis":{"values":[0,0.1,0.2]}}},
"layer":[{"data":{"name":"obs"},"transform":[{"filter":"datum.p==113"}],"mark":{"type":"line","strokeWidth":1.3},"encoding":{"order":{"field":"z","type":"quantitative"},"stroke":{"datum":"Observed velocity","type":"nominal","scale":{"domain":["Observed velocity","Law of the wall"],"range":["#000000","#CF6A3A"]},"legend":{"title":null,"orient":"none","legendX":288,"legendY":831,"symbolSize":400,"symbolOffset":28,"labelOffset":36,"symbolStrokeWidth":1.3,"labelFontSize":19,"labelColor":"#000000","strokeColor":"#262626","fillColor":"#FFFFFF","padding":8,"rowPadding":4,"encode":{"symbols":{"update":{"shape":{"signal":"datum.value === 'Observed velocity' ? 'M-3.8,0H3.8M0.8,0A0.8,0.8,0,1,1,-0.8,0A0.8,0.8,0,1,1,0.8,0' : 'M-3.8,0H3.8'"},"fill":{"value":"transparent"}}}}}}}},{"data":{"name":"law"},"transform":[{"filter":"datum.p==113"}],"mark":{"type":"line","strokeWidth":1.3,"interpolate":"monotone"},"encoding":{"order":{"field":"z","type":"quantitative"},"stroke":{"datum":"Law of the wall","type":"nominal"}}},{"data":{"name":"obs"},"transform":[{"filter":"datum.p==113"}],"mark":{"type":"point","shape":"circle","size":256,"filled":false,"color":"#000000","strokeWidth":1.2,"opacity":1},"encoding":{}}]}
],
"config": {
"font": "Liberation Sans, Arial, Helvetica, sans-serif",
"view": {"stroke": "#262626", "strokeWidth": 1},
"axis": {"domain": false, "grid": false, "labelFontSize": 22, "labelColor": "#262626", "tickColor": "#262626", "tickSize": -4, "labelPadding": 10, "titleFontSize": 29, "titleFontWeight": "normal", "titleColor": "#262626", "format": "~g", "labelFlush": false, "labelOverlap": false, "labelFont": "Liberation Sans, Arial, Helvetica, sans-serif", "titleFont": "Liberation Sans, Arial, Helvetica, sans-serif"},
"title": {"fontSize": 24, "fontWeight": "bold", "color": "#000000", "offset": -8, "frame": "group", "font": "Liberation Sans, Arial, Helvetica, sans-serif"},
"legend": {"labelFont": "Liberation Sans, Arial, Helvetica, sans-serif"}
}
}
